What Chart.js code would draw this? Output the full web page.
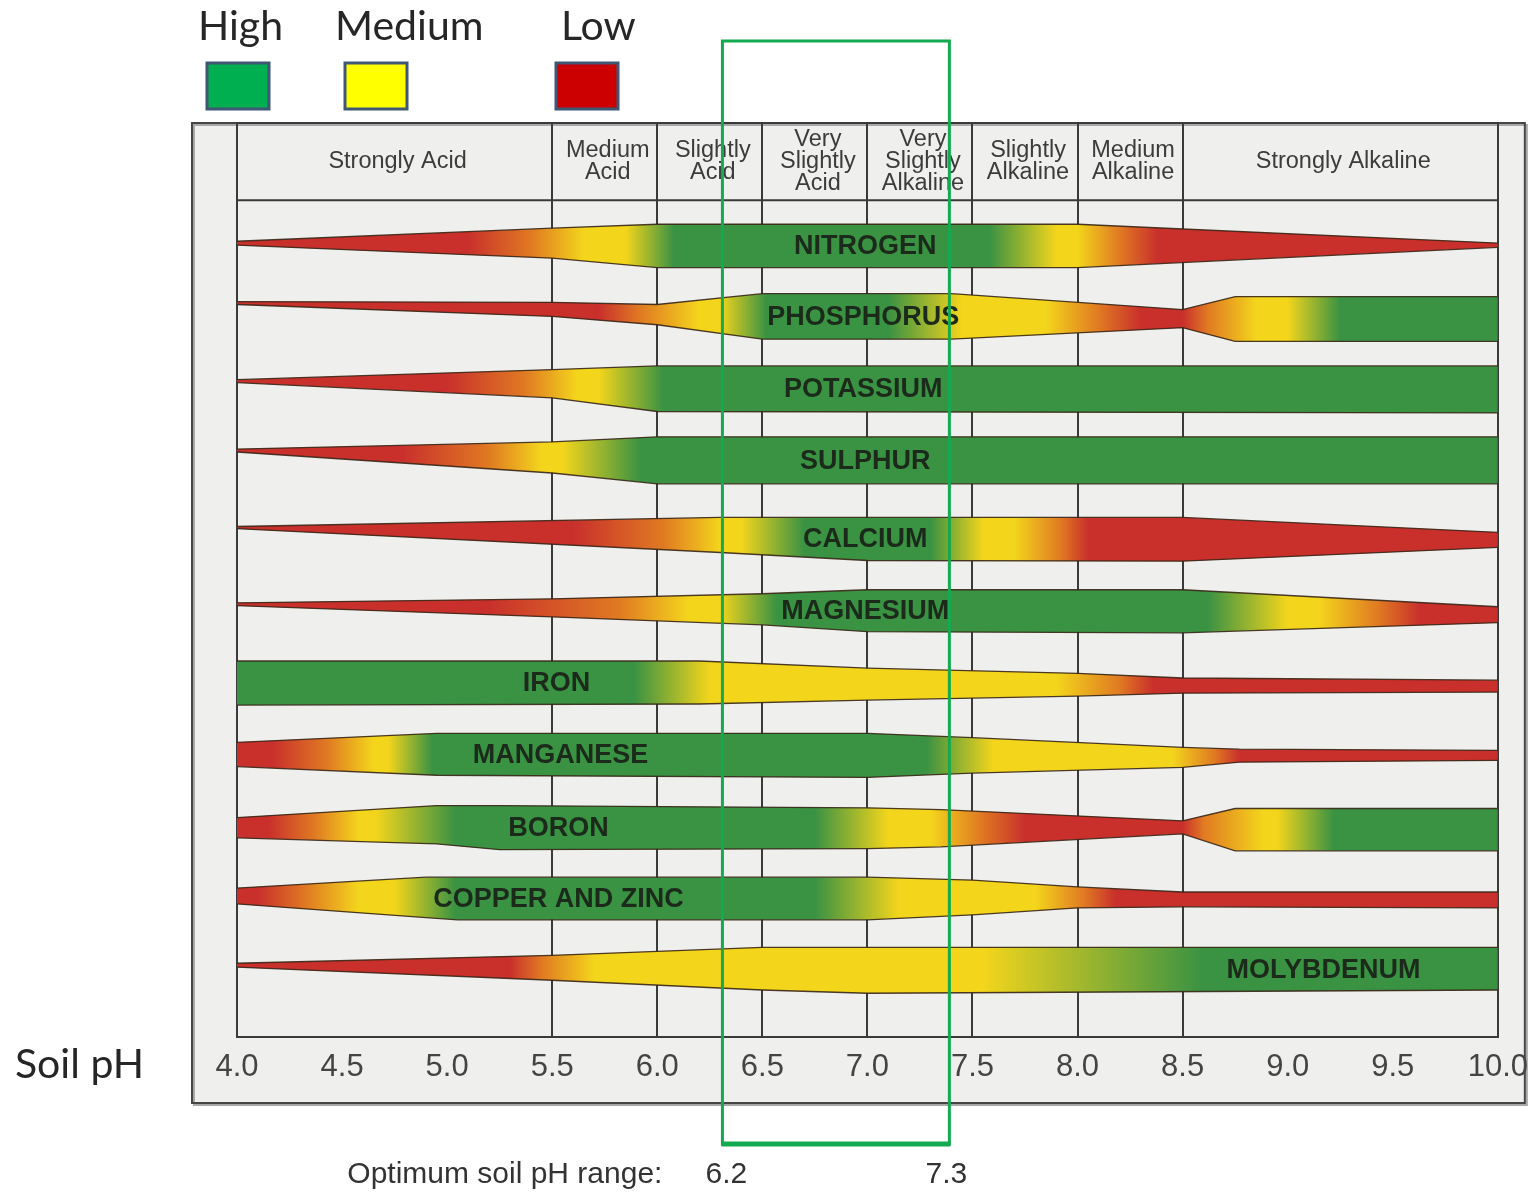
<!DOCTYPE html>
<html>
<head>
<meta charset="utf-8">
<title>Soil pH and nutrient availability</title>
<script src="https://cdn.jsdelivr.net/npm/chart.js@4.4.1/dist/chart.umd.min.js"></script>
<style>
  html, body { margin: 0; padding: 0; background: #fff; }
  canvas { display: block; }
</style>
</head>
<body>
<canvas id="phChart" width="1540" height="1192"></canvas>
<script>
// pH axis
const phMin = 4.0;
const phMax = 10.0;
const phStep = 0.5;
const gridPh = [4.0, 5.5, 6.0, 6.5, 7.0, 7.5, 8.0, 8.5, 10.0];

// header zones
const zoneEdges = [4.0, 5.5, 6.0, 6.5, 7.0, 7.5, 8.0, 8.5, 10.0];
const zoneLabels = [
    ['Strongly Acid'],
    ['Medium', 'Acid'],
    ['Slightly', 'Acid'],
    ['Very', 'Slightly', 'Acid'],
    ['Very', 'Slightly', 'Alkaline'],
    ['Slightly', 'Alkaline'],
    ['Medium', 'Alkaline'],
    ['Strongly Alkaline']
];

const nutrients = ['NITROGEN', 'PHOSPHORUS', 'POTASSIUM', 'SULPHUR', 'CALCIUM', 'MAGNESIUM',
    'IRON', 'MANGANESE', 'BORON', 'COPPER AND ZINC', 'MOLYBDENUM'];
const labelPh = [6.99, 6.98, 6.98, 6.99, 6.99, 6.99, 5.52, 5.54, 5.53, 5.53, 9.17];

// band outline per nutrient: [pH, top, bottom], offsets from the row in row units
const bandEdges = [
    [[4.0, -0.055, 0.0], [5.5, -0.235, 0.18], [6.0, -0.29, 0.31], [8.0, -0.29, 0.31], [10.0, -0.03, 0.03]],
    [[4.0, -0.22, -0.18], [5.5, -0.21, -0.015], [6.0, -0.18, 0.10], [6.5, -0.33, 0.30], [7.4, -0.33, 0.30],
     [8.5, -0.11, 0.14], [8.75, -0.29, 0.33], [10.0, -0.29, 0.33]],
    [[4.0, -0.14, -0.10], [5.5, -0.28, 0.11], [6.0, -0.33, 0.30], [10.0, -0.33, 0.32]],
    [[4.0, -0.18, -0.14], [5.5, -0.28, 0.15], [6.0, -0.35, 0.30], [10.0, -0.35, 0.30]],
    [[4.0, -0.11, -0.08], [6.3, -0.235, 0.25], [7.0, -0.235, 0.36], [8.5, -0.235, 0.37], [10.0, -0.03, 0.18]],
    [[4.0, -0.055, -0.015], [5.5, -0.11, 0.14], [6.5, -0.18, 0.25], [7.0, -0.235, 0.345], [8.5, -0.235, 0.36],
     [10.0, 0.0, 0.22]],
    [[4.0, -0.25, 0.36], [6.2, -0.25, 0.345], [7.0, -0.15, 0.29], [8.0, -0.08, 0.235], [8.5, -0.015, 0.195],
     [10.0, 0.015, 0.18]],
    [[4.0, -0.125, 0.21], [4.95, -0.25, 0.33], [7.0, -0.25, 0.36], [7.5, -0.19, 0.30], [8.5, -0.055, 0.22],
     [8.77, -0.03, 0.15], [10.0, -0.015, 0.125]],
    [[4.0, -0.085, 0.195], [4.95, -0.25, 0.28], [5.25, -0.25, 0.36], [7.0, -0.22, 0.345], [7.35, -0.195, 0.32],
     [8.5, -0.04, 0.14], [8.75, -0.21, 0.375], [10.0, -0.21, 0.375]],
    [[4.0, -0.11, 0.11], [4.9, -0.26, 0.30], [5.05, -0.26, 0.33], [7.0, -0.26, 0.33], [7.5, -0.22, 0.26],
     [8.0, -0.125, 0.165], [8.5, -0.055, 0.15], [10.0, -0.055, 0.165]],
    [[4.0, -0.07, -0.015], [5.5, -0.18, 0.165], [6.5, -0.29, 0.30], [7.0, -0.29, 0.345], [10.0, -0.29, 0.30]]
];

// availability along each band: [pH, level]  (L low, T turning, M medium, H high)
const bandLevels = [
    [[4.0, 'L'], [5.1, 'L'], [5.4, 'T'], [5.65, 'M'], [5.85, 'M'], [6.08, 'H'], [7.58, 'H'], [7.9, 'M'], [8.0, 'M'], [8.2, 'T'], [8.38, 'L'], [10.0, 'L']],
    [[4.0, 'L'], [5.72, 'L'], [5.92, 'T'], [6.2, 'M'], [6.3, 'M'], [6.52, 'H'], [7.1, 'H'], [7.45, 'M'], [7.85, 'M'], [8.1, 'T'], [8.3, 'L'], [8.5, 'L'], [8.62, 'T'], [8.85, 'M'], [9.0, 'M'], [9.25, 'H'], [10.0, 'H']],
    [[4.0, 'L'], [5.0, 'L'], [5.37, 'T'], [5.62, 'M'], [5.72, 'M'], [6.03, 'H'], [10.0, 'H']],
    [[4.0, 'L'], [4.79, 'L'], [5.2, 'T'], [5.45, 'M'], [5.55, 'M'], [5.92, 'H'], [10.0, 'H']],
    [[4.0, 'L'], [5.6, 'L'], [6.03, 'T'], [6.3, 'M'], [6.4, 'M'], [6.7, 'H'], [7.3, 'H'], [7.55, 'M'], [7.7, 'M'], [7.92, 'T'], [8.05, 'L'], [10.0, 'L']],
    [[4.0, 'L'], [5.2, 'L'], [5.82, 'T'], [6.15, 'M'], [6.3, 'M'], [6.57, 'H'], [8.62, 'H'], [9.0, 'M'], [9.15, 'M'], [9.43, 'T'], [9.63, 'L'], [10.0, 'L']],
    [[4.0, 'H'], [5.89, 'H'], [6.25, 'M'], [7.9, 'M'], [8.2, 'T'], [8.36, 'L'], [10.0, 'L']],
    [[4.0, 'L'], [4.17, 'L'], [4.43, 'T'], [4.65, 'M'], [4.72, 'M'], [4.93, 'H'], [7.28, 'H'], [7.6, 'M'], [8.45, 'M'], [8.65, 'T'], [8.77, 'L'], [10.0, 'L']],
    [[4.0, 'L'], [4.15, 'L'], [4.37, 'T'], [4.58, 'M'], [4.66, 'M'], [5.04, 'H'], [6.75, 'H'], [7.1, 'M'], [7.3, 'M'], [7.54, 'T'], [7.75, 'L'], [8.5, 'L'], [8.6, 'T'], [8.88, 'M'], [8.95, 'M'], [9.22, 'H'], [10.0, 'H']],
    [[4.0, 'L'], [4.1, 'L'], [4.33, 'T'], [4.58, 'M'], [4.75, 'M'], [5.04, 'H'], [6.75, 'H'], [7.15, 'M'], [7.8, 'M'], [8.03, 'T'], [8.18, 'L'], [10.0, 'L']],
    [[4.0, 'L'], [5.3, 'L'], [5.45, 'T'], [5.7, 'M'], [7.55, 'M'], [8.6, 'H'], [10.0, 'H']]
];

const legendLabels = ['High', 'Medium', 'Low'];
const legendLevels = ['H', 'M', 'L'];
const optimumBox = [6.31, 7.39];
const optimumLabels = ['6.2', '7.3'];

// view range of the row axis (row 0 = nitrogen)
const rowMin = -1.69;
const rowMax = 10.95;
const headerLine = -0.62;

const levelColour = { L: '#c9302c', T: '#e07a22', M: '#f3d51c', H: '#3a9243' };
const legendColour = { H: '#00b050', M: '#ffff00', L: '#cc0000' };
const outline = 'rgba(55, 38, 22, 0.9)';
const sans = '"Liberation Sans", Arial, sans-serif';

function bandFill(chart, i) {
    const x = chart.scales.x;
    if (!x || !chart.chartArea) return levelColour.H;
    const x0 = x.getPixelForValue(phMin);
    const x1 = x.getPixelForValue(phMax);
    const g = chart.ctx.createLinearGradient(x0, 0, x1, 0);
    bandLevels[i].forEach(([ph, lv]) => {
        g.addColorStop((x.getPixelForValue(ph) - x0) / (x1 - x0), levelColour[lv]);
    });
    return g;
}

function bandCentre(i, ph) {
    const e = bandEdges[i];
    for (let k = 0; k < e.length - 1; k++) {
        if (ph >= e[k][0] && ph <= e[k + 1][0]) {
            const t = (ph - e[k][0]) / (e[k + 1][0] - e[k][0]);
            const top = e[k][1] + t * (e[k + 1][1] - e[k][1]);
            const bot = e[k][2] + t * (e[k + 1][2] - e[k][2]);
            return i + (top + bot) / 2;
        }
    }
    return i;
}

const datasets = [];
nutrients.forEach((name, i) => {
    datasets.push({
        label: name + ' upper',
        data: bandEdges[i].map(p => ({ x: p[0], y: i + p[1] })),
        borderColor: outline,
        borderWidth: 1.3,
        pointRadius: 0,
        tension: 0,
        fill: false
    });
    datasets.push({
        label: name,
        data: bandEdges[i].map(p => ({ x: p[0], y: i + p[2] })),
        borderColor: outline,
        borderWidth: 1.3,
        pointRadius: 0,
        tension: 0,
        fill: '-1',
        backgroundColor: ctx => bandFill(ctx.chart, i)
    });
});

const framePlugin = {
    id: 'frame',
    beforeDraw(chart) {
        const { ctx, chartArea: a } = chart;
        ctx.save();
        ctx.fillStyle = '#fff';
        ctx.fillRect(0, 0, chart.width, chart.height);
        const l = a.left - 45, r = a.right + 27, t = a.top, b = a.bottom + 66;
        ctx.fillStyle = '#efefed';
        ctx.fillRect(l, t, r - l, b - t);
        ctx.strokeStyle = '#a8a8a8';
        ctx.lineWidth = 2;
        ctx.strokeRect(l + 2, t + 2, r - l, b - t);
        ctx.strokeStyle = '#454545';
        ctx.strokeRect(l, t, r - l, b - t);
        ctx.restore();
    }
};

const headerPlugin = {
    id: 'header',
    beforeDatasetsDraw(chart) {
        const { ctx, chartArea: a, scales: { x, y } } = chart;
        const yLine = y.getPixelForValue(headerLine);
        ctx.save();
        ctx.strokeStyle = '#3a3a3a';
        ctx.lineWidth = 2;
        ctx.beginPath();
        ctx.moveTo(a.left, yLine);
        ctx.lineTo(a.right, yLine);
        ctx.moveTo(a.left, a.top);
        ctx.lineTo(a.right, a.top);
        ctx.stroke();
        ctx.font = '23.5px ' + sans;
        ctx.fillStyle = '#3c3c3c';
        ctx.textAlign = 'center';
        ctx.textBaseline = 'middle';
        const cy = (a.top + yLine) / 2;
        zoneLabels.forEach((lines, i) => {
            const cx = (x.getPixelForValue(zoneEdges[i]) + x.getPixelForValue(zoneEdges[i + 1])) / 2 + 3;
            lines.forEach((s, k) => ctx.fillText(s, cx, cy + (k - (lines.length - 1) / 2) * 22));
        });
        ctx.restore();
    }
};

const namePlugin = {
    id: 'names',
    afterDatasetsDraw(chart) {
        const { ctx, scales: { x, y } } = chart;
        ctx.save();
        ctx.font = 'bold 27px ' + sans;
        ctx.fillStyle = '#1b2a1a';
        ctx.textAlign = 'center';
        ctx.textBaseline = 'middle';
        nutrients.forEach((name, i) => {
            ctx.fillText(name, x.getPixelForValue(labelPh[i]), y.getPixelForValue(bandCentre(i, labelPh[i])) + 1);
        });
        ctx.restore();
    }
};

const overlayPlugin = {
    id: 'overlay',
    afterDraw(chart) {
        const { ctx, chartArea: a, scales: { x } } = chart;
        ctx.save();

        // legend
        const legendX = [207, 345, 556];
        const textX = [198, 335, 561];
        ctx.font = '41px Lato, "Open Sans", sans-serif';
        ctx.fillStyle = '#262626';
        ctx.textBaseline = 'alphabetic';
        ctx.textAlign = 'left';
        legendLabels.forEach((s, i) => {
            ctx.fillText(s, textX[i], 40);
            ctx.fillStyle = legendColour[legendLevels[i]];
            ctx.fillRect(legendX[i], 63, 62, 46);
            ctx.strokeStyle = '#3f5674';
            ctx.lineWidth = 3;
            ctx.strokeRect(legendX[i], 63, 62, 46);
            ctx.fillStyle = '#262626';
        });

        ctx.fillText('Soil pH', 15, 1078);

        // optimum range box
        const bx0 = x.getPixelForValue(optimumBox[0]);
        const bx1 = x.getPixelForValue(optimumBox[1]);
        const by0 = a.top - 82;
        const by1 = a.bottom + 107;
        ctx.strokeStyle = '#13aa50';
        ctx.lineWidth = 3;
        ctx.strokeRect(bx0, by0, bx1 - bx0, by1 - by0);
        ctx.lineWidth = 5;
        ctx.beginPath();
        ctx.moveTo(bx0 - 1, by1);
        ctx.lineTo(bx1 + 1, by1);
        ctx.stroke();

        ctx.font = '30px ' + sans;
        ctx.fillStyle = '#333';
        ctx.textAlign = 'right';
        ctx.fillText('Optimum soil pH range:', bx0 - 60, 1183);
        ctx.textAlign = 'center';
        ctx.fillText(optimumLabels[0], bx0 + 4, 1183);
        ctx.fillText(optimumLabels[1], bx1 - 3, 1183);
        ctx.restore();
    }
};

new Chart(document.getElementById('phChart'), {
    type: 'line',
    data: { datasets },
    options: {
        responsive: false,
        animation: false,
        devicePixelRatio: 1,
        events: [],
        layout: { padding: { left: 237, right: 40, top: 123, bottom: 0 } },
        plugins: {
            legend: { display: false },
            tooltip: { enabled: false }
        },
        scales: {
            x: {
                type: 'linear',
                min: phMin,
                max: phMax,
                ticks: {
                    stepSize: phStep,
                    autoSkip: false,
                    maxRotation: 0,
                    padding: 12,
                    color: '#444',
                    font: { family: sans, size: 31 },
                    callback: v => v.toFixed(1)
                },
                grid: {
                    drawTicks: false,
                    lineWidth: 2,
                    color: c => (c.tick && gridPh.includes(c.tick.value)) ? '#3a3a3a' : 'rgba(0,0,0,0)'
                },
                border: { display: true, color: '#3a3a3a', width: 2 },
                afterFit: s => { s.height = 155; }
            },
            y: {
                type: 'linear',
                reverse: true,
                min: rowMin,
                max: rowMax,
                display: false
            }
        }
    },
    plugins: [framePlugin, headerPlugin, namePlugin, overlayPlugin]
});
</script>
</body>
</html>
